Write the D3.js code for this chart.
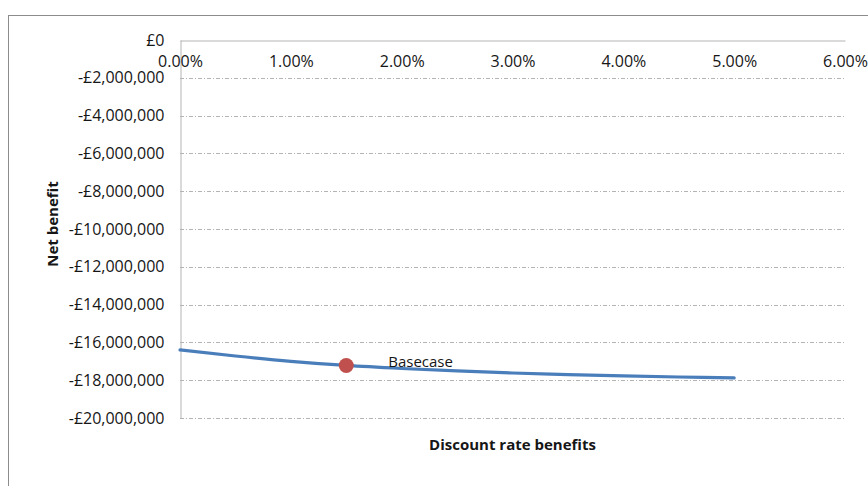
<!DOCTYPE html>
<html>
<head>
<meta charset="utf-8">
<script src="https://cdn.jsdelivr.net/npm/d3@7"></script>
<style>
  html, body { margin: 0; padding: 0; background: #fff; }
  svg { display: block; font-family: "Open Sans", "Liberation Sans", sans-serif; }
</style>
</head>
<body>
<svg id="chart" width="868" height="486"></svg>
<script>
// Discount rate (%) used for the benefits, and resulting net benefit (£)
const discountRates = [0, 0.5, 1.0, 1.5, 2.0, 2.5, 3.0, 3.5, 4.0, 4.5, 5.0];
const netBenefit = [-16400000, -16720000, -17000000, -17220000, -17380000, -17510000,
                    -17620000, -17700000, -17770000, -17830000, -17880000];
const basecaseRate = 1.5;
const basecaseValue = -17220000;
const basecaseLabel = "Basecase";
const xTicks = [0, 1, 2, 3, 4, 5, 6];
const yTicks = [0, -2000000, -4000000, -6000000, -8000000, -10000000,
                -12000000, -14000000, -16000000, -18000000, -20000000];
const xTitle = "Discount rate benefits";
const yTitle = "Net benefit";

(function drawChart() {
  const svg = d3.select("#chart");
  const ink = "#161616";

  // Outer chart frame
  svg.append("rect")
    .attr("x", 8.5).attr("y", 15.5)
    .attr("width", 900).attr("height", 500)
    .attr("fill", "none").attr("stroke", "#8c8c8c").attr("stroke-width", 1);

  const plotLeft = 180, plotRight = 845, plotTop = 40, plotBottom = 418;
  const x = d3.scaleLinear().domain([0, 6]).range([plotLeft, plotRight]);
  const y = d3.scaleLinear().domain([-20000000, 0]).range([plotBottom, plotTop]);

  // Horizontal gridlines (dash-dot)
  svg.append("g")
    .selectAll("line")
    .data(yTicks.filter(d => d !== 0))
    .join("line")
    .attr("x1", plotLeft).attr("x2", plotRight)
    .attr("y1", d => Math.round(y(d)) + 0.5).attr("y2", d => Math.round(y(d)) + 0.5)
    .attr("stroke", "#b4b4b4").attr("stroke-width", 1)
    .attr("stroke-dasharray", "4,2,1,2");

  // Y axis
  const fmtMoney = v => v === 0 ? "£0" : (v < 0 ? "-" : "") + "£" + d3.format(",")(Math.abs(v));
  const yAxis = svg.append("g")
    .attr("transform", `translate(${plotLeft + 0.5},0)`)
    .call(d3.axisLeft(y).tickValues(yTicks).tickFormat(fmtMoney).tickSize(0).tickPadding(16));
  yAxis.select(".domain").attr("stroke", "#b4b4b4");
  yAxis.selectAll("text").attr("font-size", 16).attr("fill", ink)
    .attr("font-family", "'Open Sans', sans-serif");

  // X axis sits on the zero line at the top
  const xAxis = svg.append("g")
    .attr("transform", `translate(0,${plotTop + 0.5})`)
    .call(d3.axisBottom(x).tickValues(xTicks).tickFormat(d => d3.format(".2f")(d) + "%")
      .tickSize(0).tickPadding(15));
  xAxis.select(".domain").attr("stroke", "#b4b4b4");
  xAxis.selectAll("text").attr("font-size", 16).attr("fill", ink)
    .attr("font-family", "'Open Sans', sans-serif");

  // Net benefit curve
  const line = d3.line()
    .x((d, i) => x(discountRates[i]))
    .y(d => y(d))
    .curve(d3.curveMonotoneX);
  svg.append("path")
    .datum(netBenefit)
    .attr("d", line)
    .attr("fill", "none")
    .attr("stroke", "#4a7ebb")
    .attr("stroke-width", 3.2)
    .attr("stroke-linecap", "round");

  // Base case marker and label
  svg.append("circle")
    .attr("cx", x(basecaseRate)).attr("cy", y(basecaseValue))
    .attr("r", 7.5)
    .attr("fill", "#c0504d");
  svg.append("text")
    .attr("x", x(basecaseRate) + 42).attr("y", y(basecaseValue) + 2)
    .attr("font-size", 15).attr("fill", ink)
    .text(basecaseLabel);

  // Axis titles
  svg.append("text")
    .attr("x", (plotLeft + plotRight) / 2).attr("y", 450)
    .attr("text-anchor", "middle")
    .attr("font-size", 15).attr("font-weight", "bold").attr("fill", ink)
    .text(xTitle);
  svg.append("text")
    .attr("transform", `translate(58,224) rotate(-90)`)
    .attr("text-anchor", "middle")
    .attr("font-size", 15).attr("font-weight", "bold").attr("fill", ink)
    .text(yTitle);
})();
</script>
</body>
</html>
